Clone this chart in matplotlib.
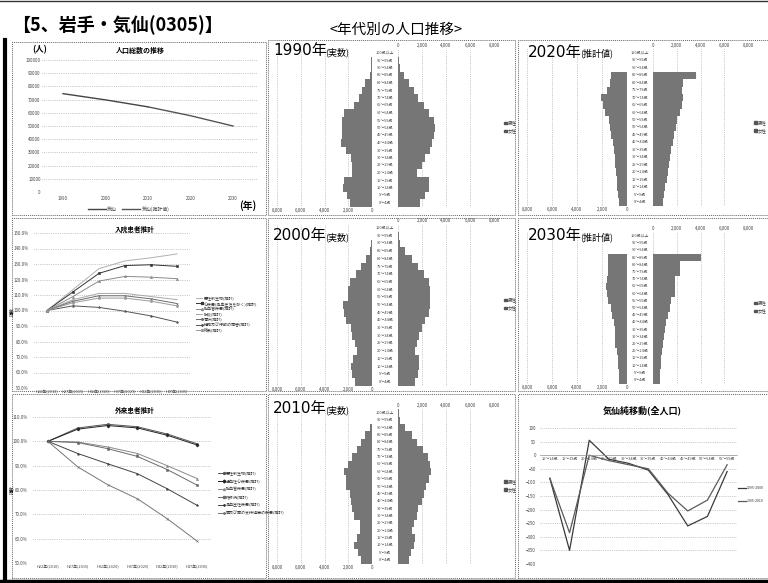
import matplotlib
matplotlib.use("Agg")
import matplotlib.pyplot as plt
from matplotlib.patches import Rectangle
from matplotlib.lines import Line2D

plt.rcParams['font.family'] = ['Noto Sans CJK JP', 'DejaVu Sans']

W, H = 768, 583

# 人口総数の推移
years_actual = [1990, 2000, 2010]
pop_actual = [74500, 69800, 64500]
years_proj = [2010, 2020, 2030]
pop_proj = [64500, 57800, 50000]

# 年齢5歳階級 (下から上)
ages = ["0～4歳", "5～9歳", "10～14歳", "15～19歳", "20～24歳", "25～29歳",
        "30～34歳", "35～39歳", "40～44歳", "45～49歳", "50～54歳", "55～59歳",
        "60～64歳", "65～69歳", "70～74歳", "75～79歳", "80～84歳", "85～89歳",
        "90～94歳", "95～99歳", "100歳以上"]

male_1990 = [1890, 2080, 2450, 2360, 1670, 1720, 1800, 2220, 2640, 2500, 2500,
             2500, 2360, 1530, 1100, 830, 560, 200, 100, 50, 0]
female_1990 = [1860, 2220, 2610, 2560, 1580, 2000, 2280, 2700, 2830, 2970, 3060,
               2970, 2560, 2140, 1700, 1300, 900, 470, 200, 100, 0]
male_2000 = [1470, 1670, 1750, 1560, 1280, 1470, 1670, 1750, 2170, 2390, 2450,
             2030, 2030, 1890, 1330, 920, 500, 170, 50, 0, 0]
female_2000 = [1440, 1670, 1780, 1720, 1440, 1580, 1780, 2000, 2280, 2560, 2700,
               2700, 2700, 2560, 2140, 1670, 1170, 610, 200, 55, 0]
male_2010 = [900, 1150, 1500, 1300, 1000, 1000, 1500, 1650, 1750, 1850, 2150,
             2200, 2400, 2000, 1700, 1300, 900, 560, 140, 30, 0]
female_2010 = [950, 1050, 1300, 1400, 1150, 1300, 1600, 1700, 2000, 2200, 2300,
               2550, 2750, 2700, 2500, 2100, 1600, 1150, 600, 200, 50]
male_2020 = [670, 720, 800, 800, 880, 930, 990, 1070, 1150, 1250, 1330,
             1470, 1730, 1950, 2050, 1600, 1330, 1250, 0, 0, 0]
female_2020 = [850, 950, 1050, 1150, 1250, 1350, 1450, 1550, 1650, 1800, 1900,
               2050, 2250, 2450, 2500, 2400, 2500, 3600, 0, 0, 0]
male_2030 = [610, 650, 720, 720, 800, 930, 930, 1000, 1070, 1200, 1300,
             1500, 1600, 1680, 1600, 1520, 1520, 1520, 0, 0, 0]
female_2030 = [560, 620, 660, 700, 770, 840, 900, 980, 1120, 1260, 1400,
               1540, 1880, 1820, 1820, 2240, 2240, 4060, 0, 0, 0]

pyr_ticks = [0, 2000, 4000, 6000, 8000]
pyr_ticklabels = ["0", "2,000", "4,000", "6,000", "8,000"]

# 将来推計 (2010年=100%)
est_years = ["H22年(2010)", "H27年(2015)", "H32年(2020)",
             "H37年(2025)", "H42年(2030)", "H47年(2035)"]

inpatient_names = ["悪性新生物(推計)", "心疾患(高血圧性を除く)(推計)", "脳血管疾患(推計)",
                   "肺炎(推計)", "骨折(推計)", "精神及び行動の障害(推計)", "総数(推計)"]
inpatient_vals = [
    [100, 113.5, 127, 132, 134, 136.5],
    [100, 112, 124, 129, 129.5, 128.5],
    [100, 109, 119, 122, 121.5, 120.5],
    [100, 107, 111, 111, 109, 107],
    [100, 106, 109.5, 109.5, 107.5, 104.5],
    [100, 103, 102, 99.5, 96.5, 92.5],
    [100, 105, 108, 108, 106, 103],
]

outpatient_names = ["悪性新生物(推計)", "虚血性心疾患(推計)", "脳血管疾患(推計)",
                    "糖尿病(推計)", "高血圧性疾患(推計)", "歯及び歯の支持組織の疾患(推計)"]
outpatient_vals = [
    [100, 105.5, 107, 106, 103, 99],
    [100, 105, 106.5, 105.5, 102.5, 98.5],
    [100, 99.7, 97.7, 95, 90, 84.7],
    [100, 99.5, 97, 93.8, 88.4, 82],
    [100, 95, 90.8, 86.7, 80.5, 73.7],
    [100, 89.5, 82.2, 76.4, 68.2, 59],
]

# 気仙 年齢階級別純移動
mig_ages = ["10～14歳", "15～19歳", "20～24歳", "25～29歳", "30～34歳",
            "35～39歳", "40～44歳", "45～49歳", "50～54歳", "55～59歳"]
mig_names = ["1995-2000", "2005-2010"]
mig_a = [-85, -350, 55, -15, -30, -55, -145, -260, -225, -60]
mig_b = [-85, -285, 0, -20, -35, -50, -140, -205, -165, -35]

fig = plt.figure(figsize=(7.68, 5.83), dpi=100)
fig.patch.set_facecolor("white")

TICK = 3.2
GRID = dict(color="#9a9a9a", linestyle=":", linewidth=0.5)
BAR = "#767676"
NUM_FONT = ['DejaVu Sans', 'Noto Sans CJK JP']


def add_ax(x0, y0, x1, y1):
    return fig.add_axes([x0 / W, 1 - y1 / H, (x1 - x0) / W, (y1 - y0) / H])


def ftext(x, y, s, **kw):
    return fig.text(x / W, 1 - y / H, s, **kw)


def frame(x0, y0, x1, y1, **kw):
    fig.add_artist(Rectangle((x0 / W, 1 - y1 / H), (x1 - x0) / W, (y1 - y0) / H,
                             transform=fig.transFigure, fill=False, **kw))


def hline(x0, x1, y, **kw):
    fig.add_artist(Line2D([x0 / W, x1 / W], [1 - y / H, 1 - y / H],
                          transform=fig.transFigure, **kw))


def vline(x, y0, y1, **kw):
    fig.add_artist(Line2D([x / W, x / W], [1 - y0 / H, 1 - y1 / H],
                          transform=fig.transFigure, **kw))


def clean(ax):
    for s in ax.spines.values():
        s.set_visible(False)
    ax.tick_params(length=0, labelsize=TICK, colors="#444444", pad=1)


# panel frames
for (x0, y0, x1, y1) in [(12, 42, 266, 215), (268, 40, 515, 215), (518, 40, 768, 215),
                         (12, 218, 266, 391), (268, 218, 515, 391), (518, 218, 768, 391),
                         (12, 394, 266, 578), (268, 394, 515, 578), (518, 394, 768, 578)]:
    frame(x0, y0, x1, y1, ec="#666666", lw=0.7, ls=(0, (1, 1)))

# outer border
vline(5, 40, 583, color="black", lw=3)
hline(0, 768, 580.5, color="black", lw=2.5)
hline(0, 768, 1, color="#333333", lw=1)

ftext(12, 25, "【5、岩手・気仙(0305)】", fontsize=13, fontweight="bold",
      va="center", ha="left")
ftext(396, 30, "<年代別の人口推移>", fontsize=10.5, va="center", ha="center")

# ---- 人口総数の推移 ----
ax = add_ax(42, 60, 257, 192)
ax.plot(years_actual, pop_actual, color="#444444", lw=1.0)
ax.plot(years_proj, pop_proj, color="#555555", lw=1.0)
ax.set_xlim(1985.06, 2035.65)
ax.set_ylim(0, 100000)
ax.set_yticks(range(0, 100001, 10000))
ax.set_yticklabels([str(v) for v in range(0, 100001, 10000)])
ax.set_xticks([1990, 2000, 2010, 2020, 2030])
ax.yaxis.grid(True, **GRID)
clean(ax)
ax.tick_params(axis="x", pad=3)
ftext(140, 50, "人口総数の推移", fontsize=5, fontweight="bold", ha="center", va="center")
ftext(40, 50, "(人)", fontsize=6, fontweight="bold", ha="center", va="center")
ftext(248, 206, "(年)", fontsize=7, fontweight="bold", ha="center", va="center")
hline(88, 106, 209, color="#444444", lw=1.0)
ftext(107, 209, "気仙", fontsize=3.5, va="center", color="#444444")
hline(122, 140, 209, color="#555555", lw=1.0)
ftext(142, 209, "気仙(推計値)", fontsize=3.5, va="center", color="#444444")


# ---- 人口ピラミッド ----
def pyramid(lx, rx, cx, ytop, ybot, male, female, year, note, tx, ty, lgx):
    sp = (ybot - ytop) / 20
    y0, y1 = ytop - sp / 2, ybot + sp / 2
    rows = range(len(ages))

    axl = add_ax(lx[0], y0, lx[1], y1)
    axl.barh(rows, male, height=1.0, color=BAR, edgecolor="none")
    axl.set_xlim(8000, 0)
    axl.set_ylim(-0.5, 20.5)
    axl.set_xticks(pyr_ticks)
    axl.set_xticklabels(pyr_ticklabels)
    axl.set_yticks([])
    axl.xaxis.grid(True, **GRID)
    axl.set_axisbelow(True)
    clean(axl)

    axr = add_ax(rx[0], y0, rx[1], y1)
    axr.barh(rows, female, height=1.0, color=BAR, edgecolor="none")
    axr.set_xlim(0, 8000)
    axr.set_ylim(-0.5, 20.5)
    axr.set_xticks(pyr_ticks)
    axr.set_xticklabels(pyr_ticklabels)
    axr.set_yticks([])
    axr.xaxis.tick_top()
    axr.xaxis.grid(True, **GRID)
    axr.set_axisbelow(True)
    clean(axr)

    for i, a in enumerate(ages):
        ftext(cx, ybot - i * sp, a, fontsize=2.8, ha="center", va="center",
              color="#444444")

    ftext(tx, ty, year, fontsize=11, ha="left", va="center", family=NUM_FONT)
    ftext(tx + 52, ty + 1, note, fontsize=6.5, ha="left", va="center")

    ly = (y0 + y1) / 2
    for k, lab in enumerate(["男性", "女性"]):
        fig.add_artist(Rectangle((lgx / W, 1 - (ly - 5 + 8 * k + 1.3) / H),
                                 2.5 / W, 2.5 / H, transform=fig.transFigure,
                                 color="#555555"))
        ftext(lgx + 3.5, ly - 5 + 8 * k, lab, fontsize=3.2, va="center",
              color="#444444")


pyramid((277, 372), (398, 494), 385, 53, 203, male_1990, female_1990,
        "1990年", "(実数)", 273, 51, 504)
pyramid((277, 372), (398, 494), 385, 228, 382, male_2000, female_2000,
        "2000年", "(実数)", 273, 236, 504)
pyramid((277, 372), (398, 494), 385, 413, 560, male_2010, female_2010,
        "2010年", "(実数)", 273, 409, 504)
pyramid((527, 627), (653, 748), 640, 53, 202, male_2020, female_2020,
        "2020年", "(推計値)", 528, 52, 754)
pyramid((527, 627), (653, 748), 640, 236, 380, male_2030, female_2030,
        "2030年", "(推計値)", 528, 236, 754)


# ---- 将来推計 (折れ線) ----
def index_chart(box, yr, title, ty, names, vals, styles, lgy, lgdy, ylab_y):
    ax = add_ax(*box)
    x = range(len(est_years))
    for v, (c, m) in zip(vals, styles):
        ax.plot(x, v, color=c, lw=0.7, marker=m, markersize=1.6,
                markerfacecolor=c, markeredgecolor=c, markeredgewidth=0.4)
    ax.set_xlim(-0.5, len(est_years) - 0.5)
    ax.set_ylim(*yr)
    ticks = list(range(yr[0], yr[1] + 1, 10))
    ax.set_yticks(ticks)
    ax.set_yticklabels([f"{t:.1f}%" for t in ticks])
    ax.set_xticks(list(x))
    ax.set_xticklabels(est_years)
    ax.yaxis.grid(True, **GRID)
    ax.set_axisbelow(True)
    clean(ax)
    ax.tick_params(axis="y", pad=4)
    ax.tick_params(axis="x", pad=1.5, labelsize=2.8)
    ftext(135, ty, title, fontsize=4.8, fontweight="bold", ha="center", va="center")
    ftext(12, ylab_y, "指数", fontsize=3.2, rotation=90, ha="center", va="center")
    lx = box[2] + 6
    for k, (nm, (c, m)) in enumerate(zip(names, styles)):
        yy = lgy + k * lgdy
        fig.add_artist(Line2D([lx / W, (lx + 6) / W], [1 - yy / H] * 2,
                              transform=fig.transFigure, color=c, lw=0.7,
                              marker=m, markersize=1.4, markevery=[1],
                              markerfacecolor=c, markeredgecolor=c))
        ftext(lx + 8, yy, nm, fontsize=2.9, va="center", color="#333333")


in_styles = [("#b0b0b0", None), ("#333333", "s"), ("#8a8a8a", "^"),
             ("#a8a8a8", None), ("#6a6a6a", "x"), ("#555555", "*"), ("#9a9a9a", "o")]
index_chart((34, 233, 190, 388), (50, 150), "入院患者推計", 229,
            inpatient_names, inpatient_vals, in_styles, 298, 5.3, 312)

out_styles = [("#555555", "o"), ("#222222", "D"), ("#8a8a8a", "^"),
              ("#6a6a6a", "s"), ("#444444", "*"), ("#777777", "x")]
index_chart((33, 417, 212, 563), (50, 110), "外来患者推計", 410,
            outpatient_names, outpatient_vals, out_styles, 473, 8, 490)

# ---- 純移動 ----
ax = add_ax(540, 428, 737, 564)
mx = range(len(mig_ages))
ax.plot(mx, mig_a, color="#3a3a3a", lw=0.9)
ax.plot(mx, mig_b, color="#5a5a5a", lw=0.9)
ax.set_xlim(-0.5, len(mig_ages) - 0.5)
ax.set_ylim(-400, 100)
ax.set_yticks(range(-400, 101, 50))
ax.yaxis.grid(True, **GRID)
ax.set_axisbelow(True)
clean(ax)
ax.spines["bottom"].set_visible(True)
ax.spines["bottom"].set_position(("data", 0))
ax.spines["bottom"].set_color("#999999")
ax.spines["bottom"].set_linewidth(0.5)
ax.set_xticks(list(mx))
ax.set_xticklabels(mig_ages)
ax.tick_params(axis="x", labelsize=2.8, pad=1.5)
ax.tick_params(axis="y", pad=3)
ftext(642, 410, "気仙純移動(全人口)", fontsize=6.5, fontweight="bold",
      ha="center", va="center")
for k, (nm, c) in enumerate(zip(mig_names, ["#3a3a3a", "#5a5a5a"])):
    yy = 488 + 13 * k
    hline(738, 746, yy, color=c, lw=0.9)
    ftext(747, yy, nm, fontsize=2.6, va="center", color="#333333")

fig.savefig("out.png", dpi=100)
